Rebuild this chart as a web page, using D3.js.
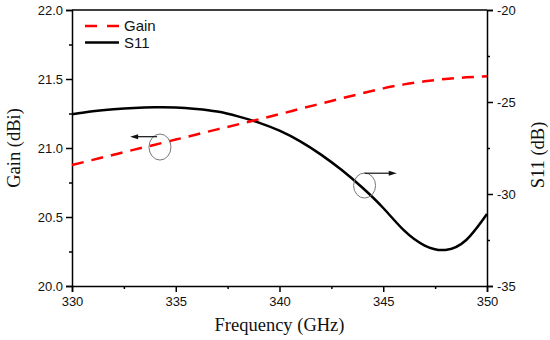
<!DOCTYPE html>
<html>
<head>
<meta charset="utf-8">
<script src="https://cdn.jsdelivr.net/npm/d3@7"></script>
<style>
  html, body { margin: 0; padding: 0; background: #fff; }
  svg { display: block; }
</style>
</head>
<body>
<svg id="chart" width="550" height="340"></svg>
<script>
// ---- data ----
const freq = [330, 331, 332, 333, 334, 335, 336, 337, 338, 339, 340, 341, 342, 343, 344, 345, 346, 347, 348, 349, 350];
const gain = [20.877, 20.914, 20.951, 20.988, 21.024, 21.061, 21.098, 21.135, 21.171, 21.208, 21.245, 21.284, 21.322, 21.360, 21.397, 21.432, 21.461, 21.483, 21.500, 21.512, 21.520];
const s11 = [-25.67, -25.50, -25.39, -25.32, -25.29, -25.30, -25.38, -25.52, -25.78, -26.12, -26.56, -27.14, -27.86, -28.70, -29.66, -30.76, -31.98, -32.80, -33.04, -32.50, -31.09];
const xTicks = [330, 335, 340, 345, 350];
const xMinor = [332.5, 337.5, 342.5, 347.5];
const yLeftTicks = [20.0, 20.5, 21.0, 21.5, 22.0];
const yLeftMinor = [20.25, 20.75, 21.25, 21.75];
const yRightTicks = [-35, -30, -25, -20];
const yRightMinor = [-32.5, -27.5, -22.5];
const seriesNames = ["Gain", "S11"];
// annotation anchors (data coords)
const annoLeft = { f: 334.24, g: 21.007, arrowFrom: 334.1, arrowTo: 332.8, arrowY: 21.082 };
const annoRight = { f: 344.1, s: -29.54, arrowFrom: 344.1, arrowTo: 345.65, arrowY: -28.87 };

// ---- layout ----
const svg = d3.select("#chart");
const L = 72, R = 487, T = 10, B = 286;
const x = d3.scaleLinear().domain([330, 350]).range([L, R]);
const yL = d3.scaleLinear().domain([20, 22]).range([B, T]);
const yR = d3.scaleLinear().domain([-35, -20]).range([B, T]);

const tickFont = "'Liberation Sans', Arial, sans-serif";
const titleFont = "'Liberation Serif', 'Times New Roman', serif";

function styleAxis(g) {
  g.selectAll("path.domain").attr("stroke", "#000").attr("stroke-width", 1.5);
  g.selectAll(".tick line").attr("stroke", "#000").attr("stroke-width", 1.5);
  g.selectAll(".tick text").attr("font-family", tickFont).attr("font-size", 13).attr("fill", "#111");
}

const gx = svg.append("g").attr("transform", `translate(0,${B})`)
  .call(d3.axisBottom(x).tickValues(xTicks).tickFormat(d3.format("d")).tickSize(6).tickPadding(5));
styleAxis(gx);
const gxm = svg.append("g").attr("transform", `translate(0,${B})`)
  .call(d3.axisBottom(x).tickValues(xMinor).tickFormat("").tickSize(3));
styleAxis(gxm); gxm.select("path.domain").remove();

const gyl = svg.append("g").attr("transform", `translate(${L},0)`)
  .call(d3.axisLeft(yL).tickValues(yLeftTicks).tickFormat(d3.format(".1f")).tickSize(6).tickPadding(3));
styleAxis(gyl);
const gylm = svg.append("g").attr("transform", `translate(${L},0)`)
  .call(d3.axisLeft(yL).tickValues(yLeftMinor).tickFormat("").tickSize(3));
styleAxis(gylm); gylm.select("path.domain").remove();

const gyr = svg.append("g").attr("transform", `translate(${R},0)`)
  .call(d3.axisRight(yR).tickValues(yRightTicks).tickFormat(d => "-" + Math.abs(d)).tickSize(6).tickPadding(4));
styleAxis(gyr);
const gyrm = svg.append("g").attr("transform", `translate(${R},0)`)
  .call(d3.axisRight(yR).tickValues(yRightMinor).tickFormat("").tickSize(3));
styleAxis(gyrm); gyrm.select("path.domain").remove();

// top frame
svg.append("line").attr("x1", L).attr("x2", R).attr("y1", T).attr("y2", T)
  .attr("stroke", "#000").attr("stroke-width", 1.5);

// lines
const idx = d3.range(freq.length);
const lineGain = d3.line().x(i => x(freq[i])).y(i => yL(gain[i])).curve(d3.curveNatural);
const lineS11 = d3.line().x(i => x(freq[i])).y(i => yR(s11[i])).curve(d3.curveNatural);

svg.append("path").attr("d", lineS11(idx)).attr("fill", "none")
  .attr("stroke", "#000").attr("stroke-width", 2.5);
svg.append("path").attr("d", lineGain(idx)).attr("fill", "none")
  .attr("stroke", "#f00").attr("stroke-width", 2.5).attr("stroke-dasharray", "12,8");

// annotations
function arrow(x1, x2, yy) {
  const dir = Math.sign(x2 - x1);
  svg.append("line").attr("x1", x1).attr("y1", yy).attr("x2", x2 - dir * 6).attr("y2", yy)
    .attr("stroke", "#111").attr("stroke-width", 1.2);
  svg.append("path")
    .attr("d", `M${x2},${yy} L${x2 - dir * 8},${yy - 2.5} L${x2 - dir * 8},${yy + 2.5} Z`)
    .attr("fill", "#111");
}
svg.append("ellipse").attr("cx", x(annoLeft.f)).attr("cy", yL(annoLeft.g))
  .attr("rx", 11).attr("ry", 13).attr("fill", "none").attr("stroke", "#777").attr("stroke-width", 1);
arrow(x(annoLeft.arrowFrom), x(annoLeft.arrowTo), yL(annoLeft.arrowY));

svg.append("ellipse").attr("cx", x(annoRight.f)).attr("cy", yR(annoRight.s))
  .attr("rx", 11).attr("ry", 12.5).attr("fill", "none").attr("stroke", "#777").attr("stroke-width", 1);
arrow(x(annoRight.arrowFrom), x(annoRight.arrowTo), yR(annoRight.arrowY));

// legend
const legend = svg.append("g");
const legendStyles = [
  { color: "#f00", dash: "12,10" },
  { color: "#000", dash: null }
];
seriesNames.forEach((name, i) => {
  const yy = 26 + i * 16.5;
  const ln = legend.append("line").attr("x1", 85).attr("x2", 119).attr("y1", yy).attr("y2", yy)
    .attr("stroke", legendStyles[i].color).attr("stroke-width", 2.5);
  if (legendStyles[i].dash) ln.attr("stroke-dasharray", legendStyles[i].dash);
  legend.append("text").attr("x", 124).attr("y", yy).attr("dy", "0.36em")
    .attr("font-family", tickFont).attr("font-size", 15).attr("fill", "#111").text(name);
});

// axis titles
svg.append("text").attr("x", (L + R) / 2).attr("y", 331)
  .attr("text-anchor", "middle").attr("font-family", titleFont).attr("font-size", 18.5)
  .attr("fill", "#111").text("Frequency (GHz)");
svg.append("text").attr("transform", `translate(20,${(T + B) / 2}) rotate(-90)`)
  .attr("text-anchor", "middle").attr("font-family", titleFont).attr("font-size", 18.5)
  .attr("fill", "#111").text("Gain (dBi)");
svg.append("text").attr("transform", `translate(544,${(T + B) / 2 + 7}) rotate(-90)`)
  .attr("text-anchor", "middle").attr("font-family", titleFont).attr("font-size", 18.5)
  .attr("fill", "#111").text("S11 (dB)");
</script>
</body>
</html>
